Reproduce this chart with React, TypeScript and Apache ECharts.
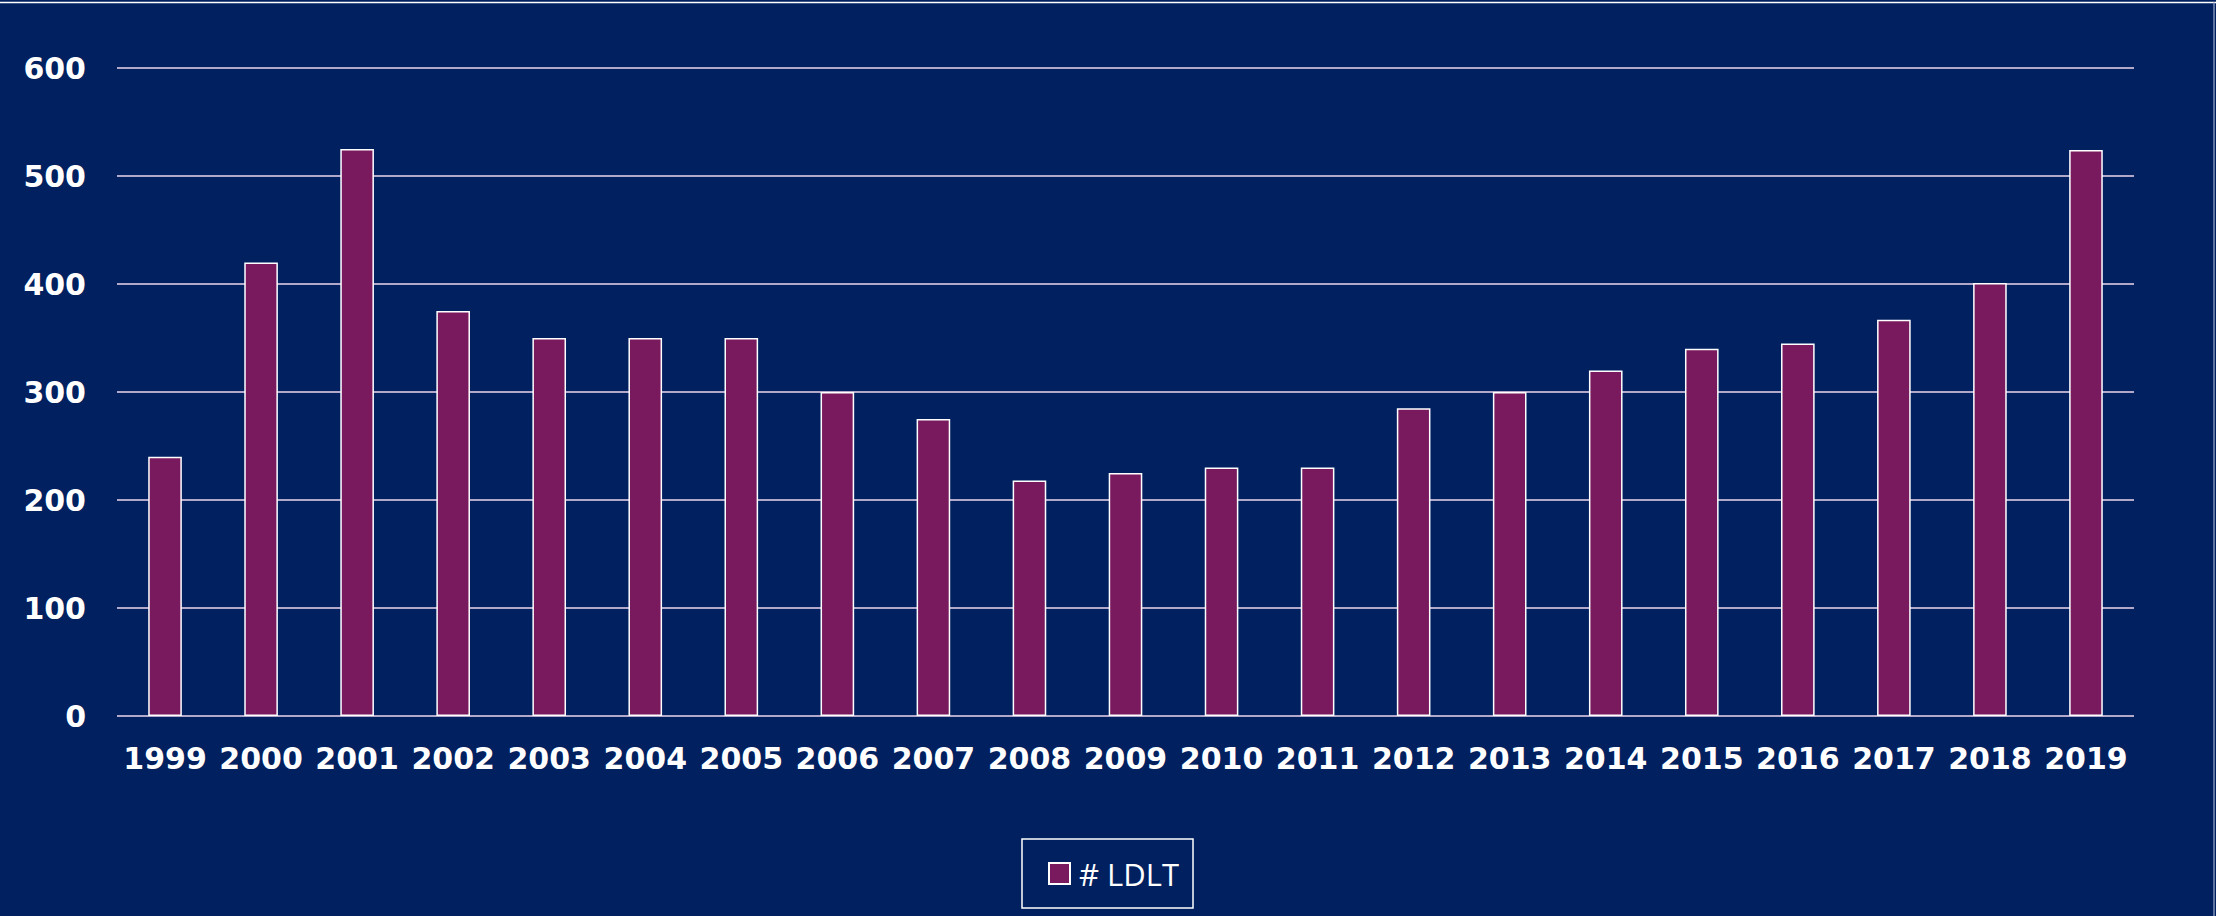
import React, { useEffect, useRef } from "react";
import * as echarts from "echarts";

const years = ["1999","2000","2001","2002","2003","2004","2005","2006","2007","2008","2009","2010","2011","2012","2013","2014","2015","2016","2017","2018","2019"];
const ldlt = [240, 420, 525, 375, 350, 350, 350, 300, 275, 218, 225, 230, 230, 285, 300, 320, 340, 345, 367, 401, 524];
const seriesName = "# LDLT";

const BG = "#002060";
const BAR = "#7A1A5E";
const GRID = "#EED6EC";
const FONT = "'Open Sans', 'Noto Sans', sans-serif";
const AXFONT = "'DejaVu Sans', 'Open Sans', sans-serif";

export default function App() {
  const ref = useRef<HTMLDivElement>(null);
  useEffect(() => {
    document.body.style.margin = "0";
    document.body.style.background = BG;
    const chart = echarts.init(ref.current!, null, { renderer: "svg" });
    chart.setOption({
      animation: false,
      backgroundColor: BG,
      grid: { left: 117, right: 82, top: 68, bottom: 200, containLabel: false },
      xAxis: {
        type: "category",
        data: years,
        axisLine: { show: false },
        axisTick: { show: false },
        axisLabel: {
          color: "#FFFFFF",
          fontFamily: AXFONT,
          fontWeight: "bold",
          fontSize: 30,
          margin: 27,
          interval: 0,
        },
      },
      yAxis: {
        type: "value",
        min: 0,
        max: 600,
        interval: 100,
        axisLine: { show: false },
        axisTick: { show: false },
        splitLine: { lineStyle: { color: GRID, width: 1.5 } },
        axisLabel: {
          color: "#FFFFFF",
          fontFamily: AXFONT,
          fontWeight: "bold",
          fontSize: 30,
          margin: 31,
        },
      },
      legend: {
        show: true,
        left: 1022,
        top: 839,
        data: [seriesName],
        icon: "rect",
        itemWidth: 21,
        itemHeight: 21,
        borderColor: "#FFFFFF",
        borderWidth: 1.5,
        padding: [19, 14, 19, 26],
        textStyle: {
          color: "#FFFFFF",
          fontFamily: FONT,
          fontSize: 31,
          lineHeight: 24,
          padding: [0, 0, 0, 4],
        },
      },
      series: [
        {
          name: seriesName,
          type: "bar",
          data: ldlt,
          barWidth: "35%",
          itemStyle: { color: BAR, borderColor: "#FFFFFF", borderWidth: 1.5 },
        },
      ],
      graphic: [
        { type: "line", shape: { x1: 0, y1: 2.5, x2: 2216, y2: 2.5 }, style: { stroke: "#FFFFFF", lineWidth: 1.5 } },
        { type: "line", shape: { x1: 2214, y1: 2.5, x2: 2214, y2: 916 }, style: { stroke: "#8090B8", lineWidth: 1.5 } },
      ],
    });
    return () => chart.dispose();
  }, []);
  return <div ref={ref} style={{ width: 2216, height: 916 }} />;
}
